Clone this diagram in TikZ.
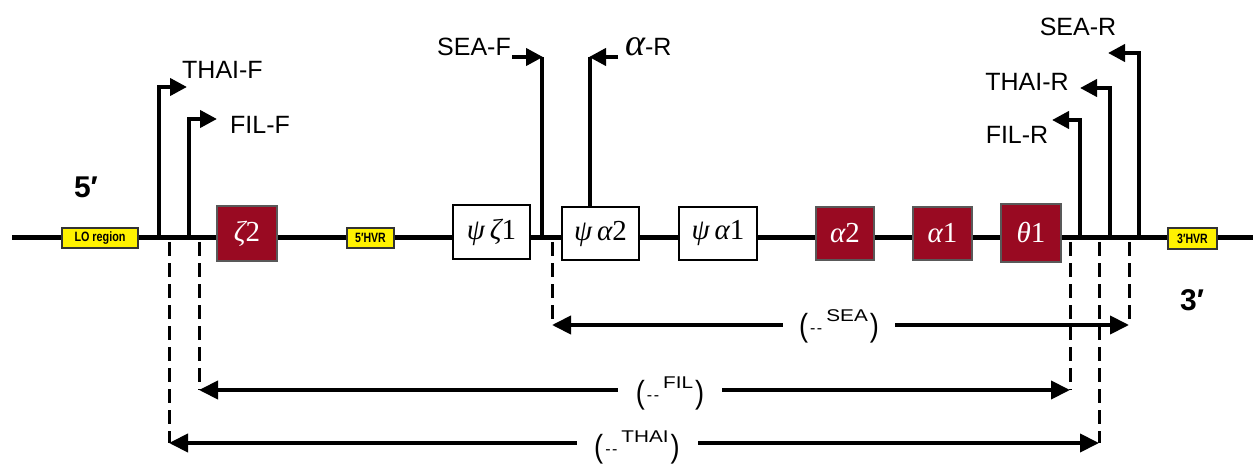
\documentclass[tikz,border=0pt]{standalone}
\usepackage{fontspec}
\setmainfont{Liberation Sans}
\newfontfamily\grk{Liberation Serif}
\usetikzlibrary{arrows.meta}
\definecolor{genered}{RGB}{153,10,34}
\newcommand\spantext[1]{{\fontsize{32}{32}\selectfont\scalebox{0.85}[1]{(}}\kern2pt\raisebox{3pt}{\fontsize{16}{16}\selectfont-\kern1.5pt-}\kern4pt\raisebox{15pt}{\fontsize{17}{17}\selectfont\scalebox{1.22}[1]{#1}}\kern2pt{\fontsize{32}{32}\selectfont\scalebox{0.85}[1]{)}}}
\newcommand\gk[1]{{\grk\itshape #1}}
\begin{document}
\begin{tikzpicture}[x=1pt,y=-1pt,
  mainline/.style={line width=5pt},
  primer/.style={line width=4pt,line join=miter},
  ptip/.style={-{Triangle[length=17pt,width=17pt]}},
  guide/.style={line width=3pt,dash pattern=on 14pt off 7pt},
  span/.style={line width=4pt,{Triangle[length=19pt,width=18pt]}-{Triangle[length=19pt,width=18pt]}},
  redgene/.style={draw=black!65,line width=1.5pt,fill=genered,text=white,inner sep=0pt,font=\grk\fontsize{29}{29}\selectfont},
  pseudo/.style={draw=black,line width=1.5pt,fill=white,inner sep=0pt,font=\grk\fontsize{29}{29}\selectfont},
  hvr/.style={draw=black!80,line width=1.2pt,fill=yellow,inner sep=0pt,font=\fontsize{13.5}{13.5}\selectfont\bfseries},
  plabel/.style={font=\fontsize{25}{25}\selectfont,inner sep=0pt},
  endlabel/.style={font=\fontsize{30}{30}\selectfont\bfseries,inner sep=0pt},
  spanlabel/.style={fill=white,inner sep=0pt,anchor=base}
]
\useasboundingbox (0,0) rectangle (1253,465);

% main line
\coordinate (L) at (12,238);
\coordinate (R) at (1253,238);
\draw[mainline] (L) -- (R);

% yellow regions
\node[hvr,minimum width=76pt,minimum height=20pt] (lo) at (100,238) {\scalebox{0.8}[1]{LO region}};
\node[hvr,minimum width=47pt,minimum height=20pt] (h5) at (370.5,238) {\scalebox{0.78}[1]{5′HVR}};
\node[hvr,minimum width=49pt,minimum height=21pt] (h3) at (1192.5,238.5) {\scalebox{0.78}[1]{3′HVR}};

% genes
\node[redgene,minimum width=60pt,minimum height=55pt] (z2) at (247,233.5) {\gk{ζ}2};
\node[pseudo,minimum width=77pt,minimum height=54pt] (pz1) at (491.5,232) {\gk{ψ\,ζ}1};
\node[pseudo,minimum width=77pt,minimum height=53pt] (pa2) at (600.5,233.5) {\gk{ψ\,α}2};
\node[pseudo,minimum width=78pt,minimum height=53pt] (pa1) at (718,233.5) {\gk{ψ\,α}1};
\node[redgene,minimum width=58pt,minimum height=53pt] (a2) at (845,233.5) {\gk{α}2};
\node[redgene,minimum width=59pt,minimum height=53pt] (a1) at (942.5,233.5) {\gk{α}1};
\node[redgene,minimum width=60pt,minimum height=58pt] (t1) at (1031,233) {\gk{θ}1};

% end labels
\node[endlabel] (p5) at (86,187) {5′};
\node[endlabel] (p3) at (1192,300) {3′};

% forward primers
\coordinate (tfb) at (159,238); \coordinate (tfe) at (187,87);
\draw[primer,ptip] (tfb) |- (tfe);
\node[plabel,anchor=west] (tfl) at (182,70) {THAI-F};

\coordinate (ffb) at (189,238); \coordinate (ffe) at (217,119);
\draw[primer,ptip] (ffb) |- (ffe);
\node[plabel,anchor=west] (ffl) at (230,125) {FIL-F};

\coordinate (sfb) at (542,238); \coordinate (sft) at (542,57); \coordinate (sfs) at (512,57);
\draw[primer] (sfb) -- (sft);
\draw[primer,ptip] (sfs) -- ([xshift=1pt]sft);
\node[plabel,anchor=east] (sfl) at (511,47) {SEA-F};

% alpha-R
\coordinate (art) at (590,57); \coordinate (ars) at (618,57);
\draw[primer] (art |- pa2.north) -- (art);
\draw[primer,ptip] (ars) -- ([xshift=-1pt]art);
\node[plabel,anchor=west] (arl) at (625,47) {{\grk\itshape\fontsize{38}{38}\selectfont α}-R};

% reverse primers
\coordinate (frb) at (1080,238); \coordinate (fre) at (1052,120);
\draw[primer,ptip] (frb) |- (fre);
\node[plabel] (frl) at (1017,135) {FIL-R};

\coordinate (trb) at (1110,238); \coordinate (tre) at (1080,88);
\draw[primer,ptip] (trb) |- (tre);
\node[plabel] (trl) at (1027,82) {THAI-R};

\coordinate (srb) at (1139,238); \coordinate (sre) at (1108,53);
\draw[primer,ptip] (srb) |- (sre);
\node[plabel] (srl) at (1078,27) {SEA-R};

% guides
\coordinate (g1t) at (169,242); \coordinate (g1b) at (169,443);
\coordinate (g2t) at (199,242); \coordinate (g2b) at (199,390);
\coordinate (g3t) at (552,242); \coordinate (g3b) at (552,325);
\coordinate (g4t) at (1070,242); \coordinate (g4b) at (1070,390);
\coordinate (g5t) at (1099,242); \coordinate (g5b) at (1099,443);
\coordinate (g6t) at (1129,242); \coordinate (g6b) at (1129,325);
\foreach \g in {1,...,6} \draw[guide] (g\g t) -- (g\g b);

% spans
\draw[span] (g3b) -- (g6b);
\node[spanlabel,minimum width=112pt] (seal) at (839,336) {\spantext{SEA}};
\draw[span] (g2b) -- (g4b);
\node[spanlabel,minimum width=104pt] (fill) at (670,403) {\spantext{FIL}};
\draw[span] (g1b) -- (g5b);
\node[spanlabel,minimum width=121pt] (thail) at (637,457) {\spantext{THAI}};
\end{tikzpicture}
\end{document}
